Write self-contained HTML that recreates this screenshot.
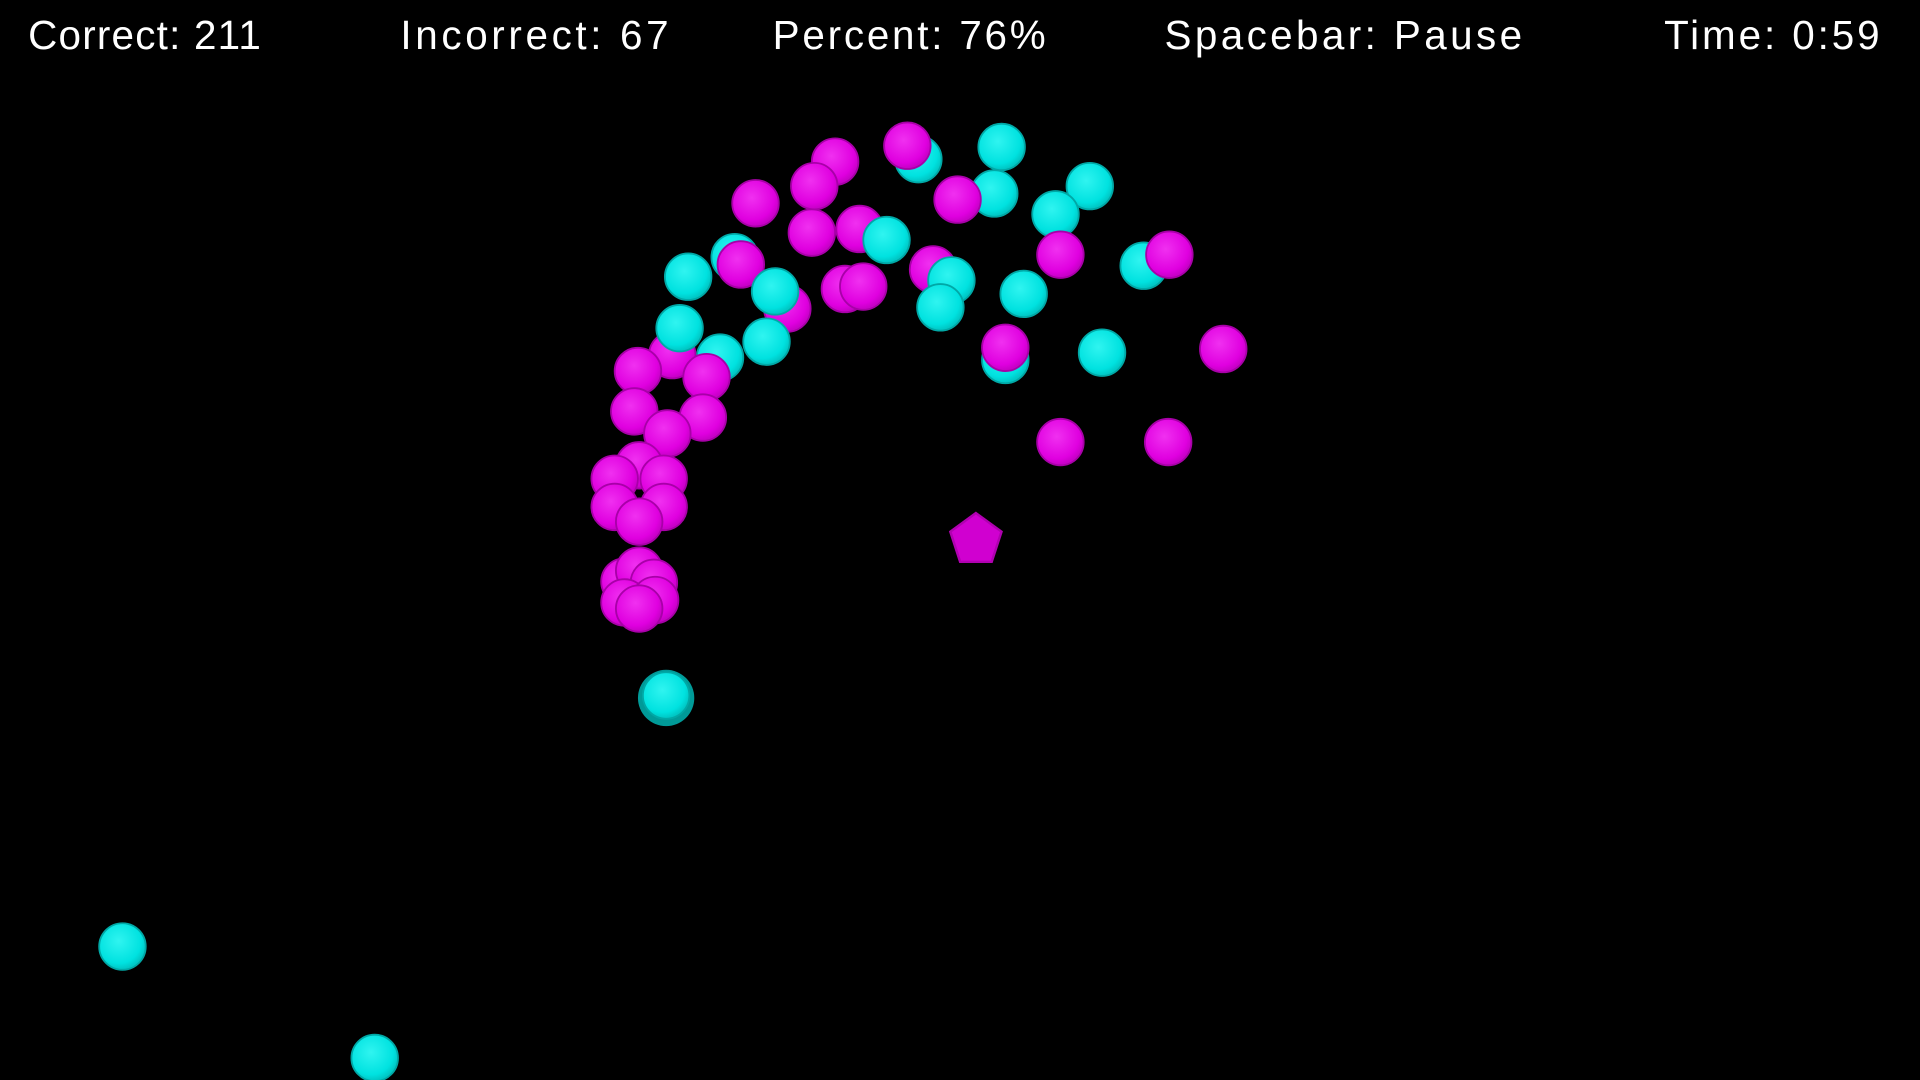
<!DOCTYPE html>
<html><head><meta charset="utf-8"><style>
html,body{margin:0;padding:0;background:#000;width:1920px;height:1080px;overflow:hidden}
svg{display:block}
text{font-family:"Liberation Sans",sans-serif;fill:#fff;font-size:33px}
</style></head><body>
<svg id="game" width="1920" height="1080" viewBox="0 0 1568 882" xmlns="http://www.w3.org/2000/svg">
<defs>
<radialGradient id="gc" cx="0.42" cy="0.38" r="0.6"><stop offset="0" stop-color="#30f4f0"/><stop offset="0.8" stop-color="#00e2e0"/><stop offset="1" stop-color="#00c8c6"/></radialGradient>
<radialGradient id="gm" cx="0.42" cy="0.38" r="0.6"><stop offset="0" stop-color="#f030f0"/><stop offset="0.8" stop-color="#e000e0"/><stop offset="1" stop-color="#c800c8"/></radialGradient>
</defs>
<rect width="1568" height="882" fill="#000"/>
<g id="hud">
<text x="23" y="40" textLength="190">Correct: 211</text>
<text x="327" y="40" textLength="219">Incorrect: 67</text>
<text x="631" y="40" textLength="223">Percent: 76%</text>
<text x="951" y="40" textLength="292">Spacebar: Pause</text>
<text x="1359" y="40" textLength="176">Time: 0:59</text>
</g>
<g id="balls"></g>
<polygon id="pent" fill="#d000d0" stroke="#b000b0" stroke-width="2"/>
<circle cx="522" cy="403" r="2.5" fill="#000"/>
</svg>
<script>
// ball data: [x, y, color] in draw order (back to front); c = cyan, m = magenta
const ballX = [750,600,588,821,934,762,741,818,812,890,862,682,665,617,663,702,724,605,643,633,562,782,866,955,690,705,777,768,836,821,900,999,866,954,549,521,555,577,626,518,574,545,522,502,542,502,542,522,510,522,534,510,535,522,544,100,306];
const ballY = [130,210,292,294,217,220,119,120,158,152,175,132,152,166,190,187,196,216,252,238,226,163,208,208,236,234,229,251,240,284,288,285,361,361,290,303,268,308,279,336,341,354,380,391,391,414,414,426,475,466,476,492,490,497,568,773,864];
const ballColor = ["c","c","c","c","c","m","m","c","c","c","c","m","m","m","m","m","c","m","m","c","c","m","m","m","m","m","c","c","c","m","c","m","m","m","m","m","c","m","c","m","m","m","m","m","m","m","m","m","m","m","m","m","m","m","c","c","c"];
const g = document.getElementById('balls');
const NS = 'http://www.w3.org/2000/svg';
for (let i = 0; i < ballX.length; i++) {
  const cyan = ballColor[i] === 'c';
  const r = (i === 54) ? 22 : 19;
  if (i === 54) {
    const sh = document.createElementNS(NS, 'circle');
    sh.setAttribute('cx', ballX[i]); sh.setAttribute('cy', ballY[i] + 2); sh.setAttribute('r', r + 1);
    sh.setAttribute('fill', '#009a98');
    
    
    g.appendChild(sh);
  }
  const c = document.createElementNS(NS, 'circle');
  c.setAttribute('cx', ballX[i]);
  c.setAttribute('cy', ballY[i]);
  c.setAttribute('r', i === 54 ? 19 : r);
  c.setAttribute('fill', cyan ? 'url(#gc)' : 'url(#gm)');
  c.setAttribute('stroke', cyan ? '#00a8a6' : '#a800a8');
  c.setAttribute('stroke-width', '1.5');
  
  
  g.appendChild(c);
}
const px = 797, py = 441, pr = 22;
const pts = [];
for (let k = 0; k < 5; k++) {
  const a = -Math.PI / 2 + k * 2 * Math.PI / 5;
  pts.push((px + pr * Math.cos(a)).toFixed(1) + ',' + (py + pr * Math.sin(a)).toFixed(1));
}
document.getElementById('pent').setAttribute('points', pts.join(' '));
</script>
</body></html>
